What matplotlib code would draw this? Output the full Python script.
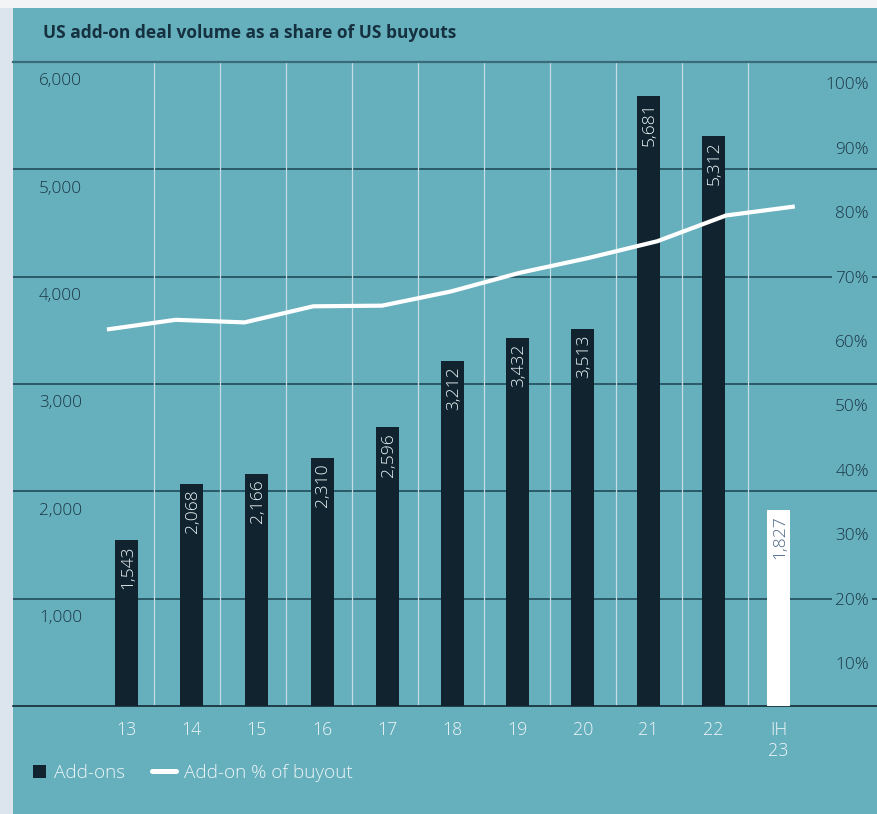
import numpy as np
import matplotlib
matplotlib.use("Agg")
import matplotlib.pyplot as plt
from matplotlib import transforms
from matplotlib.patches import Rectangle
from matplotlib.lines import Line2D

plt.rcParams['font.family'] = ['Open Sans', 'DejaVu Sans']

# ---- data ----
periods = ["13", "14", "15", "16", "17", "18", "19", "20", "21", "22", "IH\n23"]
addons = [1543, 2068, 2166, 2310, 2596, 3212, 3432, 3513, 5681, 5312, 1827]
addon_share = [61.8, 63.3, 62.9, 65.4, 65.5, 67.7, 70.6, 72.9, 75.5, 79.5, 80.9]
left_ticks = [1000, 2000, 3000, 4000, 5000, 6000]
left_labels = ["1,000", "2,000", "3,000", "4,000", "5,000", "6,000"]
right_ticks = [10, 20, 30, 40, 50, 60, 70, 80, 90, 100]
right_labels = [f"{t}%" for t in right_ticks]

# ---- style ----
W, H = 878, 814
TEAL = "#66afbd"
NAVY = "#10232f"
DARK_TXT = "#1b3644"
LIGHT_TXT = "#eef6f8"
GRID_H = "#214b59"
GRID_V = "#c3dde2"
FS = 12.3
WEIGHT = "light"

fig = plt.figure(figsize=(W / 100, H / 100), dpi=100, facecolor=TEAL)

def fx(px):
    return px / W

def fy(py):
    return 1 - py / H

# frame around the panel
fig.add_artist(Rectangle((0, 0), fx(13), 1, transform=fig.transFigure,
                         facecolor="#dce5ed", edgecolor="none", zorder=0))
fig.add_artist(Rectangle((0, fy(8)), 1, 1 - fy(8), transform=fig.transFigure,
                         facecolor="#f3f4f6", edgecolor="none", zorder=0))

fig.text(fx(43), fy(33), "US add-on deal volume as a share of US buyouts",
         fontsize=12.5, fontweight="bold", color="#15303f", ha="left",
         va="center")

ax = fig.add_axes([fx(13), fy(706), fx(865), (706 - 62) / H])
ax.set_facecolor(TEAL)
x = np.arange(len(periods))
ax.set_xlim(-1.741, 11.526)
ax.set_ylim(0, 6000)

for s in ["left", "right"]:
    ax.spines[s].set_visible(False)
ax.spines["top"].set_color("#3a6b78")
ax.spines["top"].set_linewidth(1.6)
ax.spines["bottom"].set_color("#122a35")
ax.spines["bottom"].set_linewidth(1.2)

# horizontal gridlines
for t in left_ticks[:-1]:
    ax.axhline(t, color=GRID_H, lw=1.2, zorder=1)
# vertical separators between periods
for gx in np.linspace(0.426, 9.537, 10):
    ax.axvline(gx, color=GRID_V, lw=0.9, zorder=1.5)

colors = [NAVY] * (len(periods) - 1) + ["#ffffff"]
bars = ax.bar(x, addons, width=0.353, color=colors, zorder=3)
for xi, v, c in zip(x, addons, colors):
    txt_color = LIGHT_TXT if c == NAVY else "#4a6585"
    ax.annotate(f"{v:,}", (xi, v), xytext=(1, -4), textcoords="offset points",
                rotation=90, ha="center", va="top", fontsize=12.6,
                fontweight=WEIGHT, color=txt_color, zorder=4)

ax.set_yticks([])
ax.set_xticks(x)
ax.set_xticklabels(periods, fontsize=12.8, color=LIGHT_TXT, linespacing=1.2,
                   fontweight=WEIGHT)
ax.tick_params(axis="x", length=0, pad=11)

# left value labels sit just under their gridlines
ltrans = transforms.offset_copy(
    transforms.blended_transform_factory(ax.transAxes, ax.transData),
    fig=fig, y=-17.3, units="dots")
for t, lab in zip(left_ticks, left_labels):
    ax.text(26 / 865, t, lab, transform=ltrans, ha="left",
            va="center_baseline", fontsize=FS, fontweight=WEIGHT,
            color=DARK_TXT)

# share axis
ax2 = ax.twinx()
ax2.set_ylim(20 - 1000 / 60, 20 + 5000 / 60)
ax2.set_yticks([])
for s in ax2.spines.values():
    s.set_visible(False)
line_x = np.linspace(-0.30, 10.25, len(addon_share))
ax2.plot(line_x, addon_share, color="white", lw=3.0, solid_capstyle="butt",
         solid_joinstyle="round", zorder=5)
rtrans = transforms.blended_transform_factory(ax2.transAxes, ax2.transData)
for t, lab in zip(right_ticks, right_labels):
    ax2.text(856 / 865, t, lab, transform=rtrans, ha="right",
             va="center_baseline", fontsize=FS, fontweight=WEIGHT,
             color=DARK_TXT,
             bbox=dict(boxstyle="square,pad=0.2", facecolor=TEAL,
                       edgecolor="none"))

# legend
fig.add_artist(Rectangle((fx(33), fy(778)), fx(13), 13 / H,
                         transform=fig.transFigure, facecolor=NAVY,
                         edgecolor="none"))
fig.text(fx(54), fy(771), "Add-ons", fontsize=13.6, fontweight=WEIGHT,
         color=LIGHT_TXT, ha="left", va="center_baseline")
fig.add_artist(Line2D([fx(152), fx(176)], [fy(771), fy(771)],
                      transform=fig.transFigure, color="white", lw=3.6,
                      solid_capstyle="round"))
fig.text(fx(184), fy(771), "Add-on % of buyout", fontsize=13.6,
         fontweight=WEIGHT, color=LIGHT_TXT, ha="left",
         va="center_baseline")

fig.savefig("out.png", dpi=100, facecolor=TEAL)
